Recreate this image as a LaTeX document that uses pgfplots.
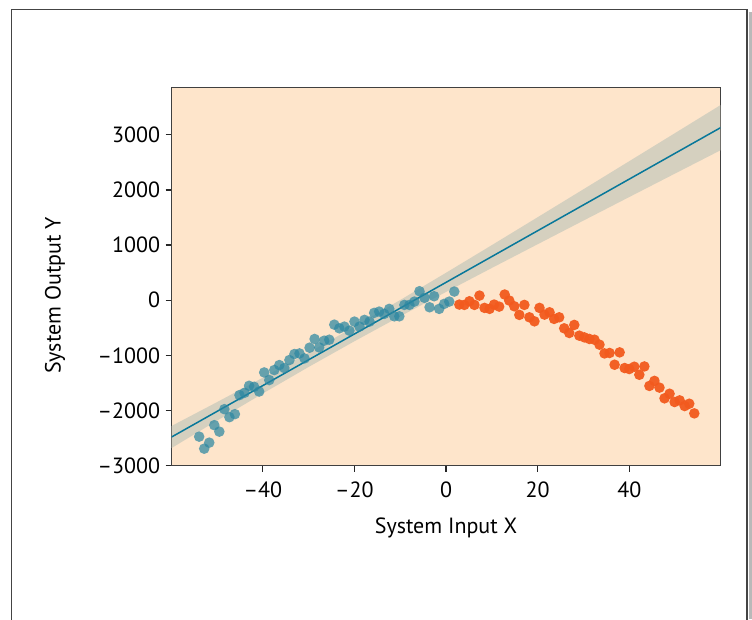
\documentclass[border=0pt]{standalone}
\usepackage{pgfplots}
\pgfplotsset{compat=1.18}
\usepackage{fontspec}
\setmainfont{PT Sans}
\definecolor{bg}{HTML}{FEE5CB}
\definecolor{blueP}{HTML}{2C87A1}
\definecolor{orangeP}{HTML}{F25A1E}
\definecolor{lineC}{HTML}{08789A}
\definecolor{bandC}{HTML}{D1CEBE}
\definecolor{frameC}{HTML}{444444}
\begin{document}
\begin{tikzpicture}[x=1pt,y=1pt]
\fill[white] (0,0) rectangle (752,619);
\fill[gray!55] (748.5,0) rectangle (752,607);
\draw[frameC, line width=1.8pt] (11.5,-5) -- (11.5,609.4) -- (747,609.4) -- (747,-5);
\begin{axis}[
  at={(171.7pt,153.3pt)}, anchor=south west,
  scale only axis, width=548.7pt, height=378.4pt,
  xmin=-59.9, xmax=59.9, ymin=-3000, ymax=3862,
  axis background/.style={fill=bg},
  axis line style={draw=black!75, line width=1.2pt},
  xtick={-40,-20,0,20,40}, xticklabels={–40,–20,0,20,40},
  ytick={-3000,-2000,-1000,0,1000,2000,3000},
  yticklabels={–3000,–2000,–1000,0,1000,2000,3000},
  tick align=outside, tick pos=left,
  major tick length=6pt,
  every tick/.style={black!85, line width=1.3pt},
  font=\fontsize{22}{26}\selectfont,
  xticklabel style={yshift=-7pt},
  yticklabel style={xshift=-2pt},
  xlabel={System Input X}, ylabel={System Output Y},
  xlabel style={at={(axis description cs:0.5,0)}, anchor=center, yshift=-62pt},
  ylabel style={at={(axis description cs:-0.2127,0.45)}, anchor=center},
  clip=true,
]
% blue scatter
\addplot[only marks, mark=*, color=blueP, mark size=5.3pt, mark options={fill=blueP, draw opacity=0, fill opacity=0.72}] coordinates {
(-53.9,-2473) (-52.8,-2691) (-51.7,-2582) (-50.6,-2265) (-49.5,-2382)
(-48.4,-1975) (-47.3,-2120) (-46.1,-2065) (-45.1,-1720) (-44.0,-1678)
(-43.0,-1551) (-41.9,-1569) (-40.8,-1655) (-39.7,-1309) (-38.6,-1447)
(-37.5,-1265) (-36.4,-1175) (-35.3,-1229) (-34.2,-1084) (-33.1,-975)
(-32.0,-964) (-30.9,-1055) (-29.8,-860) (-28.7,-702) (-27.7,-855)
(-26.6,-733) (-25.5,-715) (-24.4,-442) (-23.3,-509) (-22.2,-478)
(-21.1,-551) (-20.0,-387) (-18.9,-478) (-17.8,-356) (-16.7,-387)
(-15.7,-229) (-14.6,-205) (-13.5,-247) (-12.4,-156) (-11.3,-291)
(-10.2,-291) (-9.1,-84) (-8.0,-84) (-6.9,-24) (-5.8,164)
(-4.7,44) (-3.6,-127) (-2.6,73) (-1.5,-156) (-0.4,-65)
(0.7,-24) (1.8,158)
};
% confidence band
\addplot[draw=none, fill=bandC, fill opacity=0.9] coordinates {
(-60,-2683) (-50,-2183) (-40,-1690) (-30,-1209) (-20,-743) (-10,-291)
(0,151) (10,586) (20,1016) (30,1445) (40,1872) (50,2298) (60,2723)
(60,3543) (50,3032) (40,2522) (30,2013) (20,1506) (10,1000) (0,499)
(-10,5) (-20,-480) (-30,-949) (-40,-1404) (-50,-1847) (-60,-2283)
};
% regression line
\addplot[lineC, line width=1.5pt] coordinates {(-60,-2483) (60,3133)};
% orange scatter
\addplot[only marks, mark=*, color=orangeP, mark size=5.3pt, mark options={fill=orangeP, draw opacity=0, fill opacity=0.95}] coordinates {
(2.9,-78) (4.0,-84) (5.1,-18) (6.2,-84) (7.3,85)
(8.4,-138) (9.5,-156) (10.5,-78) (11.6,-115) (12.8,104)
(13.8,-5) (14.9,-109) (16.0,-265) (17.1,-84) (18.2,-309)
(19.3,-382) (20.4,-138) (21.5,-260) (22.6,-218) (23.6,-338)
(24.7,-309) (25.8,-509) (26.9,-593) (28.0,-447) (29.1,-642)
(30.2,-673) (31.3,-702) (32.4,-715) (33.5,-805) (34.6,-964)
(35.7,-956) (36.8,-1169) (37.9,-945) (39.0,-1229) (40.0,-1247)
(41.1,-1205) (42.2,-1351) (43.3,-1200) (44.4,-1553) (45.5,-1462)
(46.6,-1584) (47.7,-1778) (48.8,-1695) (49.9,-1845) (51.0,-1815)
(52.1,-1918) (53.1,-1876) (54.2,-2051)
};
\end{axis}
\pgfresetboundingbox
\useasboundingbox (0,0) rectangle (752,619);
\end{tikzpicture}
\end{document}
